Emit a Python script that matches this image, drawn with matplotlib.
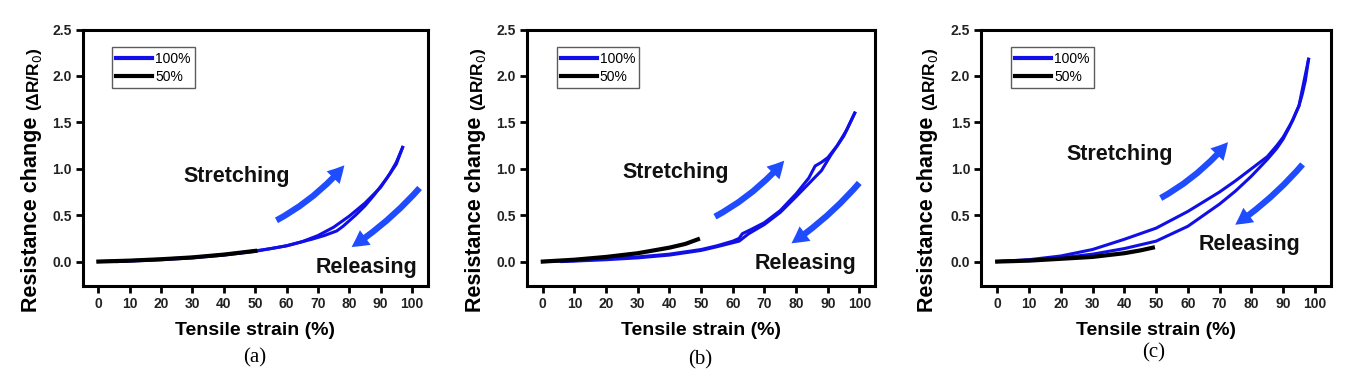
import matplotlib
matplotlib.use("Agg")
import matplotlib.pyplot as plt
from matplotlib.patches import FancyArrowPatch

plt.rcParams['font.family'] = ['Liberation Sans', 'DejaVu Sans']

# ---------------- data ----------------
# panel (a)
a_up_x = [0, 10, 20, 30, 40, 50, 55, 60, 65, 70, 75, 80, 85, 90, 93, 95, 97]
a_up_y = [0, 0.01, 0.025, 0.045, 0.075, 0.115, 0.14, 0.17, 0.215, 0.28, 0.37, 0.49, 0.63, 0.8, 0.95, 1.07, 1.23]
a_dn_x = [97, 95, 92, 88, 85, 82, 78, 76, 72, 68, 60, 50, 40, 30, 20, 10, 6]
a_dn_y = [1.23, 1.05, 0.9, 0.72, 0.6, 0.5, 0.38, 0.33, 0.28, 0.24, 0.17, 0.11, 0.07, 0.04, 0.02, 0.005, 0]
a_50_x = [0, 10, 20, 30, 40, 50]
a_50_y = [0, 0.01, 0.025, 0.045, 0.075, 0.115]

# panel (b)
b_up_x = [0, 10, 20, 30, 40, 50, 55, 60, 62, 63, 66, 70, 75, 80, 84, 86, 88, 90, 93, 96, 98.5]
b_up_y = [0, 0.01, 0.03, 0.05, 0.08, 0.13, 0.17, 0.22, 0.25, 0.3, 0.35, 0.42, 0.55, 0.73, 0.9, 1.03, 1.07, 1.12, 1.25, 1.42, 1.6]
b_dn_x = [98.5, 95, 91, 88, 84, 80, 75, 70, 65, 62, 55, 50, 40, 30, 20, 10, 6]
b_dn_y = [1.6, 1.35, 1.15, 0.98, 0.84, 0.7, 0.53, 0.4, 0.3, 0.22, 0.16, 0.12, 0.07, 0.04, 0.02, 0.005, 0]
b_50_x = [0, 10, 20, 30, 40, 45, 49]
b_50_y = [0, 0.02, 0.05, 0.09, 0.15, 0.19, 0.24]

# panel (c)
c_up_x = [0, 10, 20, 30, 40, 50, 60, 70, 75, 80, 85, 88, 90, 93, 95, 96, 97, 98]
c_up_y = [0, 0.02, 0.06, 0.13, 0.24, 0.36, 0.54, 0.75, 0.87, 1.0, 1.13, 1.25, 1.34, 1.52, 1.68, 1.8, 1.95, 2.18]
c_dn_x = [98, 96, 95, 92, 90, 88, 85, 80, 75, 70, 60, 50, 40, 30, 20, 10, 0]
c_dn_y = [2.18, 1.85, 1.68, 1.45, 1.32, 1.22, 1.1, 0.92, 0.76, 0.62, 0.38, 0.22, 0.14, 0.08, 0.04, 0.015, 0]
c_50_x = [0, 10, 20, 30, 40, 45, 49]
c_50_y = [0, 0.01, 0.03, 0.05, 0.09, 0.12, 0.15]

panel_tags = ["(a)", "(b)", "(c)"]

# arrows (start, end) and label positions per panel, in data units
stretch_arrows = [((56, 0.43), (79, 1.06)), ((53.6, 0.47), (76.8, 1.11)), ((50.7, 0.67), (73.2, 1.31))]
release_arrows = [((103, 0.815), (80, 0.14)), ((100.5, 0.87), (77.8, 0.18)), ((96.7, 1.07), (74.2, 0.38))]
stretch_text = [(44.2, 0.92), (42, 0.96), (38.5, 1.155)]
release_text = [(85.5, -0.06), (83.1, -0.02), (79.4, 0.18)]

curves = [
    (a_up_x, a_up_y, a_dn_x, a_dn_y, a_50_x, a_50_y),
    (b_up_x, b_up_y, b_dn_x, b_dn_y, b_50_x, b_50_y),
    (c_up_x, c_up_y, c_dn_x, c_dn_y, c_50_x, c_50_y),
]

W, H = 1356, 384
fig = plt.figure(figsize=(W / 100, H / 100), dpi=100)

lefts = [0.061, 0.3886, 0.7237]
widths = [0.2544, 0.2569, 0.2577]
tag_x = [255, 700, 1154]
tag_y = [358, 360, 353]
ylab_x = [31.7, 475, 927]
ypar_x = [35, 478.5, 930.5]

curve_blue = '#1010e6'
arrow_blue = '#1f4cff'
arrow_style = "simple,head_width=13,head_length=12,tail_width=4.5"

for i in range(3):
    ax = fig.add_axes([lefts[i], 0.256, widths[i], 0.667])
    ux, uy, dx, dy, hx, hy = curves[i]
    ax.plot(ux, uy, color=curve_blue, lw=2.2, label="100%")
    ax.plot(dx, dy, color=curve_blue, lw=2.2)
    ax.plot(hx, hy, color='black', lw=3.0, label="50%")

    ax.set_xlim(-5, 105)
    ax.set_ylim(-0.26, 2.5)
    ax.set_xticks(range(0, 101, 10))
    ax.set_yticks([0, 0.5, 1.0, 1.5, 2.0, 2.5])
    ax.set_yticklabels(["0.0", "0.5", "1.0", "1.5", "2.0", "2.5"])
    for s in ax.spines.values():
        s.set_linewidth(2.2)
    ax.tick_params(direction='out', length=5, width=2, labelsize=10, labelcolor='#222222', pad=3)
    for lab in ax.get_xticklabels() + ax.get_yticklabels():
        lab.set_fontweight('bold')

    ax.set_xlabel("Tensile strain (%)", fontsize=14, fontweight='bold', labelpad=8)

    # y label in two pieces: big bold words and smaller symbol part
    fig.text(ylab_x[i] / W, 1 - 214 / H, "Resistance change", rotation=90,
             fontsize=15.5, fontweight='bold', ha='center', va='center')
    fig.text(ypar_x[i] / W, 1 - 79 / H, "(ΔR/R$_0$)", rotation=90,
             fontsize=12.5, fontweight='bold', ha='center', va='center')

    leg = ax.legend(loc='upper left', bbox_to_anchor=(0.085, 0.93), fontsize=10,
                    frameon=True, fancybox=False, handlelength=2.6, handletextpad=0.2,
                    borderpad=0.3, labelspacing=0.3, borderaxespad=0)
    leg.get_frame().set_edgecolor('#333333')
    leg.get_frame().set_linewidth(1.0)
    for ln in leg.get_lines():
        ln.set_linewidth(3)

    (s0, s1) = stretch_arrows[i]
    ax.add_patch(FancyArrowPatch(s0, s1, connectionstyle="arc3,rad=0.1",
                                 arrowstyle=arrow_style, color=arrow_blue, lw=0, clip_on=False))
    (r0, r1) = release_arrows[i]
    ax.add_patch(FancyArrowPatch(r0, r1, connectionstyle="arc3,rad=-0.07",
                                 arrowstyle=arrow_style, color=arrow_blue, lw=0, clip_on=False))

    ax.text(stretch_text[i][0], stretch_text[i][1], "Stretching", fontsize=15.5,
            fontweight='bold', ha='center', va='center', color='#111111')
    ax.text(release_text[i][0], release_text[i][1], "Releasing", fontsize=15.5,
            fontweight='bold', ha='center', va='center', color='#111111')

    fig.text(tag_x[i] / W, 1 - tag_y[i] / H, panel_tags[i], fontsize=15,
             family='Liberation Serif', ha='center', va='center')

fig.savefig("out.png", dpi=100)
